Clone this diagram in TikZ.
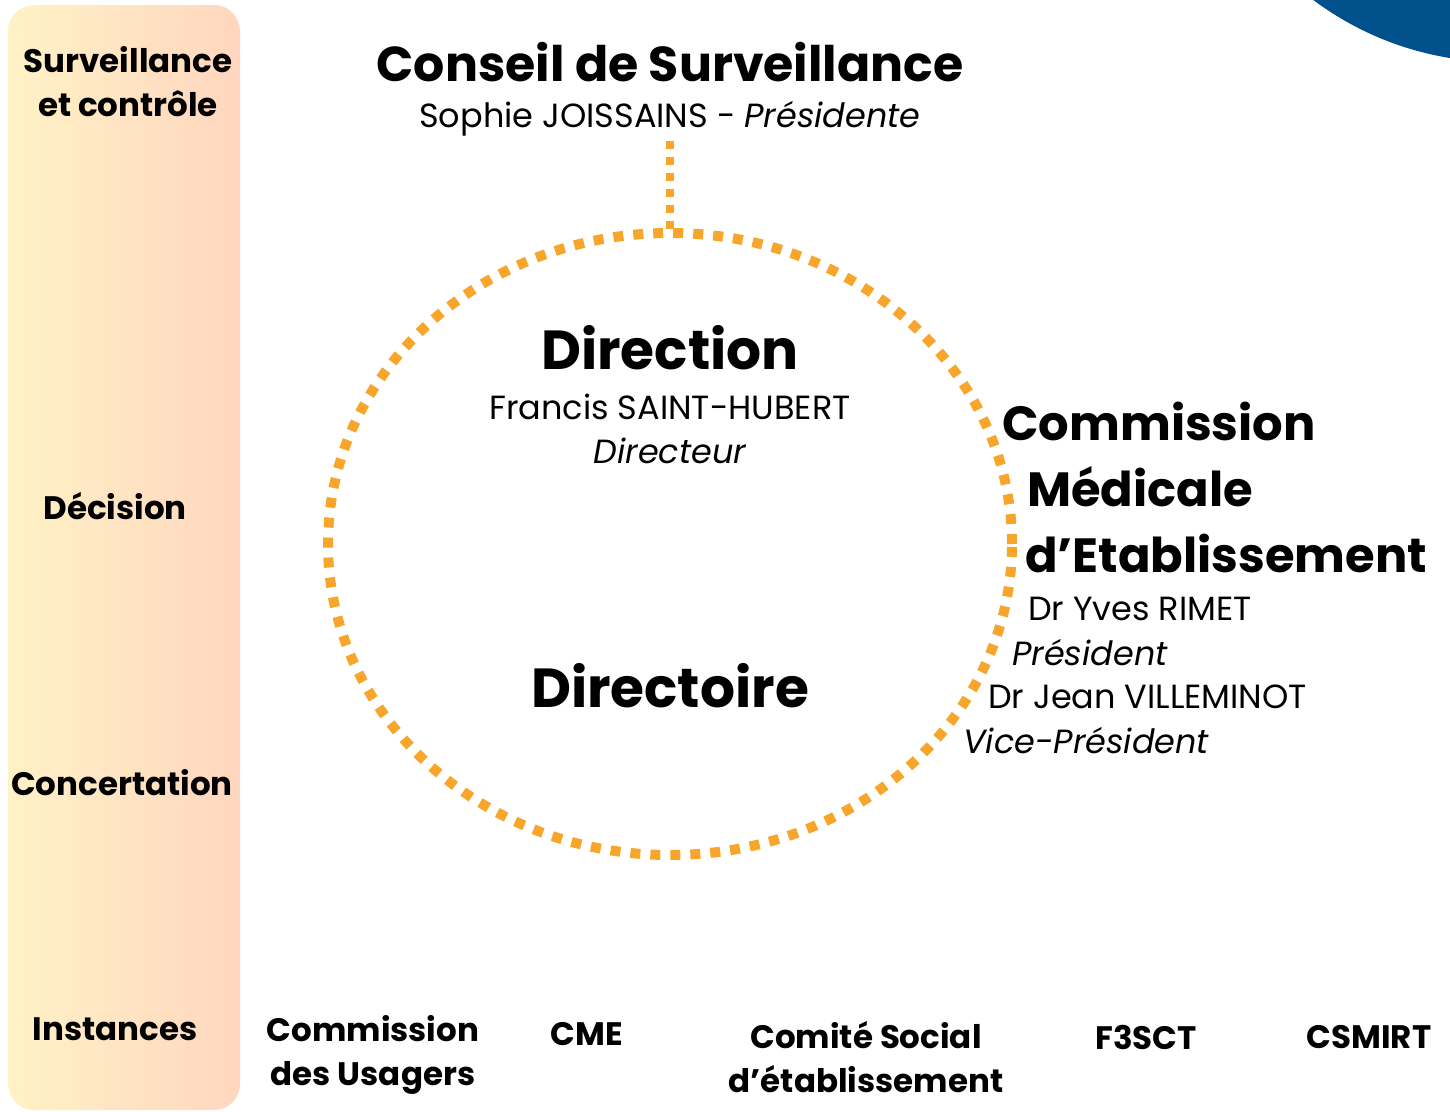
\documentclass[tikz,border=0pt]{standalone}
\usepackage{fontspec}
\usetikzlibrary{shapes.geometric}
\setmainfont{Poppins}
\begin{document}
\begin{tikzpicture}[x=1pt,y=-1pt,
  lbl/.style={font=\fontsize{32.5}{44}\selectfont\bfseries, align=center, inner sep=0pt},
  big/.style={font=\fontsize{48}{52}\selectfont\bfseries, inner sep=0pt},
  huge/.style={font=\fontsize{55}{60}\selectfont\bfseries, inner sep=0pt},
  body/.style={font=\fontsize{33.5}{36}\selectfont, inner sep=0pt},
  dotline/.style={draw=dotorange, line width=10pt, dash pattern=on 10pt off 10pt}
]
\definecolor{dotorange}{HTML}{F7A52B}
\definecolor{deepblue}{HTML}{00508C}
\definecolor{bandleft}{HTML}{FFF2C6}
\definecolor{bandright}{HTML}{FFD6BF}
\useasboundingbox (0,0) rectangle (1450,1111);
\begin{scope}
\clip (0,0) rectangle (1450,1111);
\fill[deepblue] (1500,-250) circle (312);
\end{scope}
% left band
\shade[left color=bandleft, right color=bandright, rounded corners=26pt] (8,5) rectangle (240,1110);
\node[lbl] (sc) at (128,82) {Surveillance\\et contrôle};
\node[lbl] (dec) at (115,506) {Décision};
\node[lbl] (conc) at (122,783) {Concertation};
\node[lbl] (inst) at (115,1029) {Instances};
% conseil
\node[font=\fontsize{49}{52}\selectfont\bfseries, inner sep=0pt] (conseil) at (670,62) {Conseil de Surveillance};
\node[body] (sophie) at (670,119) {Sophie JOISSAINS - \textit{Présidente}};
% circle
\node[dotline, ellipse, minimum width=684pt, minimum height=622pt, inner sep=0pt, outer sep=0pt] (circ) at (670,544) {};
\coordinate (lstart) at (670,141);
\draw[draw=dotorange, line width=8pt, dash pattern=on 8pt off 8pt] (lstart) -- (circ.north);
% direction
\node[huge] (dir) at (670,348) {Direction};
\node[body] (fsh) at (670,407) {Francis SAINT-HUBERT};
\node[body] (dirr) at (670,451) {\itshape Directeur};
\node[huge] (dire) at (670,686) {Directoire};
% CME
\node[big, anchor=west] (cm1) at (1002,421) {Commission};
\node[big, anchor=west] (cm2) at (1027,487) {Médicale};
\node[big, anchor=west] (cm3) at (1025,553) {d’Etablissement};
\node[body, anchor=west] (rim) at (1028,609) {Dr Yves RIMET};
\node[body, anchor=west] (pres) at (1012,653) {\itshape Président};
\node[body, anchor=west] (vil) at (988,697) {Dr Jean VILLEMINOT};
\node[body, anchor=west] (vpres) at (963,741) {\itshape Vice-Président};
% instances
\node[lbl] (cu) at (373,1055) {Commission\\des Usagers};
\node[lbl] (cme) at (587,1034) {CME};
\node[lbl] (cse) at (866,1057) {Comité Social\\d’établissement};
\node[lbl] (f3) at (1146,1037) {F3SCT};
\node[lbl] (cs) at (1369,1037) {CSMIRT};
\end{tikzpicture}
\end{document}
